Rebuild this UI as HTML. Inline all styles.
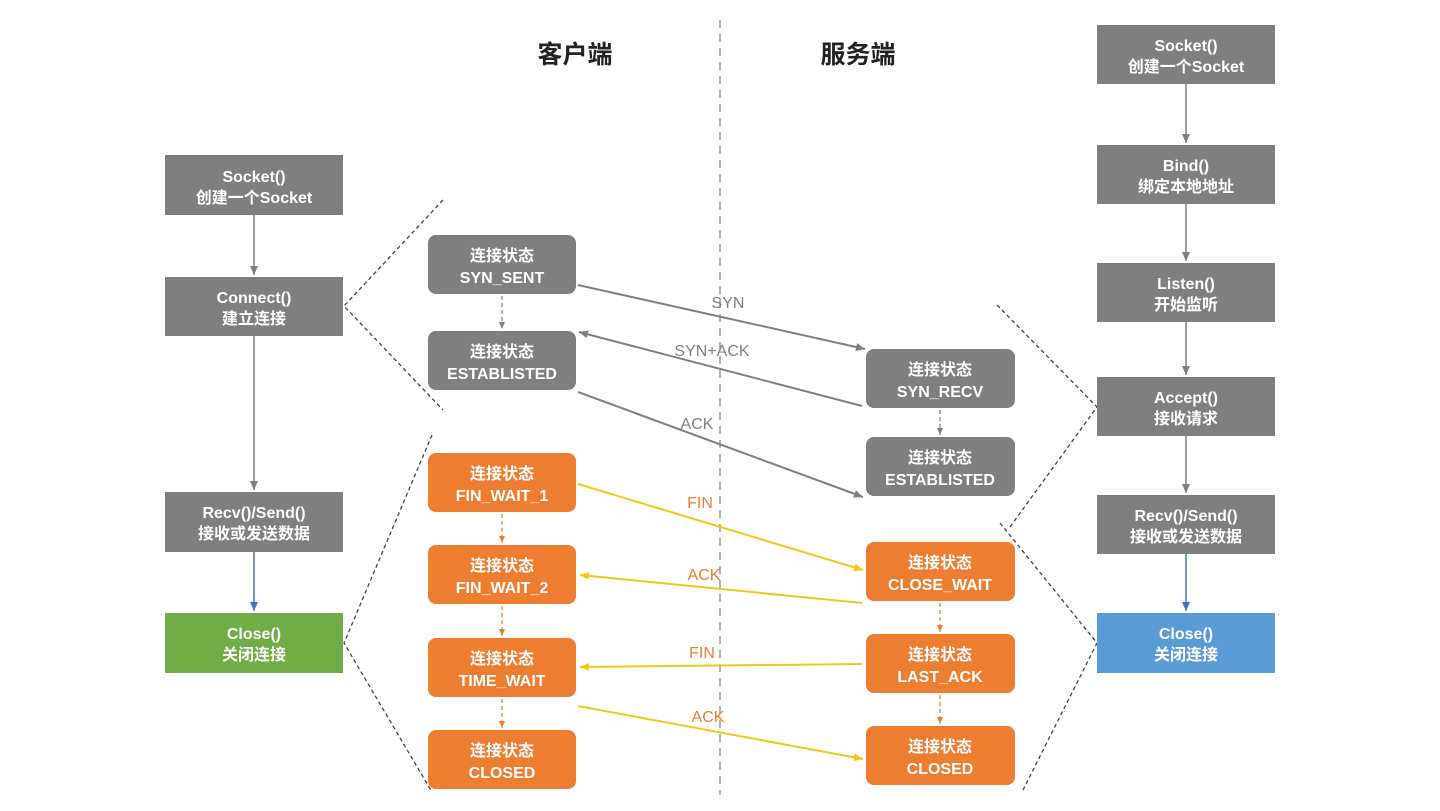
<!DOCTYPE html>
<html><head><meta charset="utf-8"><style>
html,body{margin:0;padding:0;background:#fff;}
svg{display:block;}
text{font-family:"Liberation Sans","Noto Sans CJK SC",sans-serif;}
.bt{fill:#fff;font-size:16px;text-anchor:middle;font-weight:bold;}
</style></head><body>
<svg width="1440" height="811" viewBox="0 0 1440 811" xmlns="http://www.w3.org/2000/svg">
<defs>
<marker id="ag" markerWidth="10" markerHeight="10" refX="9" refY="5" orient="auto" markerUnits="userSpaceOnUse"><path d="M0,1 L9,5 L0,9 z" fill="#7f7f7f"/></marker>
<marker id="ay" markerWidth="10" markerHeight="10" refX="9" refY="5" orient="auto" markerUnits="userSpaceOnUse"><path d="M0,1 L9,5 L0,9 z" fill="#f5c518"/></marker>
<marker id="ab" markerWidth="10" markerHeight="10" refX="9" refY="5" orient="auto" markerUnits="userSpaceOnUse"><path d="M0,1 L9,5 L0,9 z" fill="#4472c4"/></marker>
<marker id="ao" markerWidth="8" markerHeight="8" refX="7" refY="4" orient="auto" markerUnits="userSpaceOnUse"><path d="M0,1 L7,4 L0,7 z" fill="#ed7d31"/></marker>
<marker id="ag2" markerWidth="8" markerHeight="8" refX="7" refY="4" orient="auto" markerUnits="userSpaceOnUse"><path d="M0,1 L7,4 L0,7 z" fill="#7f7f7f"/></marker>
</defs>

<line x1="720" y1="20" x2="720" y2="795" stroke="#999" stroke-width="1.5" stroke-dasharray="8,6"/>
<text x="575" y="63" font-size="25" font-weight="bold" text-anchor="middle" fill="#222">客户端</text>
<text x="858" y="63" font-size="25" font-weight="bold" text-anchor="middle" fill="#222">服务端</text>

<g stroke="#444" stroke-width="1.3" stroke-dasharray="4,3" fill="none">
<polyline points="443,200 344,306 443,410"/>
<polyline points="432,435 344,643 432,792"/>
<polyline points="997,305 1097,407 1010,527"/>
<polyline points="1000,523 1097,643 1022,792"/>
</g>

<g fill="#7f7f7f">
<rect x="165" y="155" width="178" height="60"/>
<rect x="165" y="277" width="178" height="59"/>
<rect x="165" y="492" width="178" height="60"/>
</g>
<rect x="165" y="613" width="178" height="60" fill="#70ad47"/>
<text class="bt" x="254" y="182">Socket()</text><text class="bt" x="254" y="203">创建一个Socket</text>
<text class="bt" x="254" y="303">Connect()</text><text class="bt" x="254" y="324">建立连接</text>
<text class="bt" x="254" y="518">Recv()/Send()</text><text class="bt" x="254" y="539">接收或发送数据</text>
<text class="bt" x="254" y="639">Close()</text><text class="bt" x="254" y="660">关闭连接</text>
<line x1="254" y1="215" x2="254" y2="275" stroke="#7f7f7f" stroke-width="1.5" marker-end="url(#ag)"/>
<line x1="254" y1="336" x2="254" y2="490" stroke="#7f7f7f" stroke-width="1.5" marker-end="url(#ag)"/>
<line x1="254" y1="552" x2="254" y2="611" stroke="#4472c4" stroke-width="1.5" marker-end="url(#ab)"/>

<g fill="#7f7f7f">
<rect x="1097" y="25" width="178" height="59"/>
<rect x="1097" y="145" width="178" height="59"/>
<rect x="1097" y="263" width="178" height="59"/>
<rect x="1097" y="377" width="178" height="59"/>
<rect x="1097" y="495" width="178" height="59"/>
</g>
<rect x="1097" y="613" width="178" height="60" fill="#5b9bd5"/>
<text class="bt" x="1186" y="51">Socket()</text><text class="bt" x="1186" y="72">创建一个Socket</text>
<text class="bt" x="1186" y="171">Bind()</text><text class="bt" x="1186" y="192">绑定本地地址</text>
<text class="bt" x="1186" y="289">Listen()</text><text class="bt" x="1186" y="310">开始监听</text>
<text class="bt" x="1186" y="403">Accept()</text><text class="bt" x="1186" y="424">接收请求</text>
<text class="bt" x="1186" y="521">Recv()/Send()</text><text class="bt" x="1186" y="542">接收或发送数据</text>
<text class="bt" x="1186" y="639">Close()</text><text class="bt" x="1186" y="660">关闭连接</text>
<g stroke="#7f7f7f" stroke-width="1.5">
<line x1="1186" y1="84" x2="1186" y2="143" marker-end="url(#ag)"/>
<line x1="1186" y1="204" x2="1186" y2="261" marker-end="url(#ag)"/>
<line x1="1186" y1="322" x2="1186" y2="375" marker-end="url(#ag)"/>
<line x1="1186" y1="436" x2="1186" y2="493" marker-end="url(#ag)"/>
</g>
<line x1="1186" y1="554" x2="1186" y2="611" stroke="#4472c4" stroke-width="1.5" marker-end="url(#ab)"/>

<g>
<rect x="428" y="235" width="148" height="59" rx="8" fill="#7f7f7f"/>
<rect x="428" y="331" width="148" height="59" rx="8" fill="#7f7f7f"/>
<rect x="428" y="453" width="148" height="59" rx="8" fill="#ed7d31"/>
<rect x="428" y="545" width="148" height="59" rx="8" fill="#ed7d31"/>
<rect x="428" y="638" width="148" height="59" rx="8" fill="#ed7d31"/>
<rect x="428" y="730" width="148" height="59" rx="8" fill="#ed7d31"/>
<rect x="866" y="349" width="149" height="59" rx="8" fill="#7f7f7f"/>
<rect x="866" y="437" width="149" height="59" rx="8" fill="#7f7f7f"/>
<rect x="866" y="542" width="149" height="59" rx="8" fill="#ed7d31"/>
<rect x="866" y="634" width="149" height="59" rx="8" fill="#ed7d31"/>
<rect x="866" y="726" width="149" height="59" rx="8" fill="#ed7d31"/>
</g>
<text class="bt" x="502" y="261">连接状态</text><text class="bt" x="502" y="283">SYN_SENT</text>
<text class="bt" x="502" y="357">连接状态</text><text class="bt" x="502" y="379">ESTABLISTED</text>
<text class="bt" x="502" y="479">连接状态</text><text class="bt" x="502" y="501">FIN_WAIT_1</text>
<text class="bt" x="502" y="571">连接状态</text><text class="bt" x="502" y="593">FIN_WAIT_2</text>
<text class="bt" x="502" y="664">连接状态</text><text class="bt" x="502" y="686">TIME_WAIT</text>
<text class="bt" x="502" y="756">连接状态</text><text class="bt" x="502" y="778">CLOSED</text>
<text class="bt" x="940" y="375">连接状态</text><text class="bt" x="940" y="397">SYN_RECV</text>
<text class="bt" x="940" y="463">连接状态</text><text class="bt" x="940" y="485">ESTABLISTED</text>
<text class="bt" x="940" y="568">连接状态</text><text class="bt" x="940" y="590">CLOSE_WAIT</text>
<text class="bt" x="940" y="660">连接状态</text><text class="bt" x="940" y="682">LAST_ACK</text>
<text class="bt" x="940" y="752">连接状态</text><text class="bt" x="940" y="774">CLOSED</text>

<g stroke-width="1.2" stroke-dasharray="4,3">
<line x1="502" y1="296" x2="502" y2="329" stroke="#7f7f7f" marker-end="url(#ag2)"/>
<line x1="940" y1="410" x2="940" y2="435" stroke="#7f7f7f" marker-end="url(#ag2)"/>
<line x1="502" y1="514" x2="502" y2="543" stroke="#ed7d31" marker-end="url(#ao)"/>
<line x1="502" y1="606" x2="502" y2="636" stroke="#ed7d31" marker-end="url(#ao)"/>
<line x1="502" y1="699" x2="502" y2="728" stroke="#ed7d31" marker-end="url(#ao)"/>
<line x1="940" y1="603" x2="940" y2="632" stroke="#ed7d31" marker-end="url(#ao)"/>
<line x1="940" y1="695" x2="940" y2="724" stroke="#ed7d31" marker-end="url(#ao)"/>
</g>

<g stroke="#7f7f7f" stroke-width="2">
<line x1="578" y1="285" x2="865" y2="349" marker-end="url(#ag)"/>
<line x1="862" y1="406" x2="579" y2="332" marker-end="url(#ag)"/>
<line x1="578" y1="392" x2="863" y2="497" marker-end="url(#ag)"/>
</g>
<g stroke="#f5c518" stroke-width="2">
<line x1="578" y1="484" x2="863" y2="570" marker-end="url(#ay)"/>
<line x1="862" y1="603" x2="580" y2="575" marker-end="url(#ay)"/>
<line x1="862" y1="664" x2="580" y2="667" marker-end="url(#ay)"/>
<line x1="578" y1="706" x2="863" y2="759" marker-end="url(#ay)"/>
</g>
<g font-size="16" text-anchor="middle">
<text x="728" y="308" fill="#7f7f7f">SYN</text>
<text x="712" y="356" fill="#7f7f7f">SYN+ACK</text>
<text x="697" y="429" fill="#7f7f7f">ACK</text>
<text x="700" y="508" fill="#ed7d31">FIN</text>
<text x="704" y="580" fill="#ed7d31">ACK</text>
<text x="702" y="658" fill="#ed7d31">FIN</text>
<text x="708" y="722" fill="#ed7d31">ACK</text>
</g>
</svg>
</body></html>
